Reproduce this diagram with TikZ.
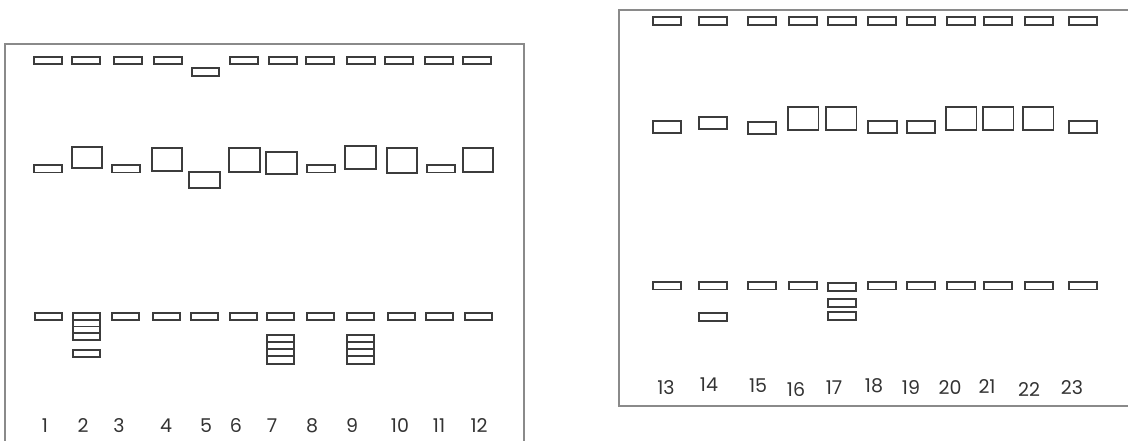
\documentclass[tikz,border=0pt]{standalone}
\usepackage{fontspec}
\setmainfont{Poppins}
\definecolor{band}{HTML}{3C3C3C}
\definecolor{frame}{HTML}{8A8A8A}
\definecolor{lbl}{HTML}{333333}

\begin{document}
\begin{tikzpicture}[x=1pt,y=-1pt,
  band/.style={draw=band,line width=1.2pt},
  gelframe/.style={draw=frame,line width=1.6pt},
  lanelbl/.style={text=lbl,font=\fontsize{19}{21}\selectfont,inner sep=0pt}]
\clip(0,0)rectangle(1128,441);
% left gel, lanes 1-12
\draw[gelframe](5,460)--(5,44)--(524,44)--(524,460);
\foreach \x in {34,72,114,154,230,269,306,347,385,425,463}
  \draw[band](\x,57)rectangle++(28,7);
\draw[band](192,68)rectangle++(27,8);
\foreach \x in {34,112,307,427}
  \draw[band](\x,165)rectangle++(28,7.5);
\draw[band](72,147)rectangle(102,168);
\draw[band](152,148)rectangle(182,171);
\draw[band](189,172)rectangle(220,188);
\draw[band](229,148)rectangle(260,172);
\draw[band](266,152)rectangle(297,174);
\draw[band](345,146)rectangle(376,169);
\draw[band](387,148)rectangle(417,173);
\draw[band](463,148)rectangle(493,172);
\foreach \x in {35,73,112,153,191,230,267,307,347,388,426,465}
  \draw[band](\x,313)rectangle++(27,7);
\foreach \ya/\yb in {320/326.5,326.5/333,333/340,350/357}
  \draw[band](73,\ya)rectangle(100,\yb);
\foreach \ya/\yb in {335/342,342/349,349/356,356/364}{
  \draw[band](267,\ya)rectangle(294,\yb);
  \draw[band](347,\ya)rectangle(374,\yb);}
\foreach \n/\x in {1/45,2/83,3/119,4/166,5/206,6/236,7/272,8/312,9/352,10/400,11/439,12/479}
  \node[lanelbl](lane\n)at(\x,426){\n};
% right gel, lanes 13-23
\draw[gelframe](1140,406)--(619,406)--(619,10)--(1140,10);
\foreach \x in {653,699,748,789,828,868,907,947,984,1025,1069}
  \draw[band](\x,17)rectangle++(28,8);
\draw[band](653,121)rectangle(681,133);
\draw[band](699,117)rectangle(727,129);
\draw[band](748,122)rectangle(776,134);
\draw[band](868,121)rectangle(897,133);
\draw[band](907,121)rectangle(935,133);
\draw[band](1069,121)rectangle(1097,133);
\foreach \x in {788,826,946,983,1023}
  \draw[band](\x,107)rectangle++(30.5,23);
\foreach \x in {653,699,748,789,868,907,947,984,1025,1069}
  \draw[band](\x,282)rectangle++(28,7.5);
\draw[band](699,313)rectangle(727,321);
\draw[band](828,283)rectangle(856,291);
\draw[band](828,299)rectangle(856,307);
\draw[band](828,312)rectangle(856,320);
\foreach \n/\x/\y in {13/666/388,14/709/385,15/758/386,16/796/390,17/834/388,18/874/386,19/911/388,20/950/388,21/987/387,22/1029/390,23/1072/388}
  \node[lanelbl](lane\n)at(\x,\y){\n};
\end{tikzpicture}
\end{document}
